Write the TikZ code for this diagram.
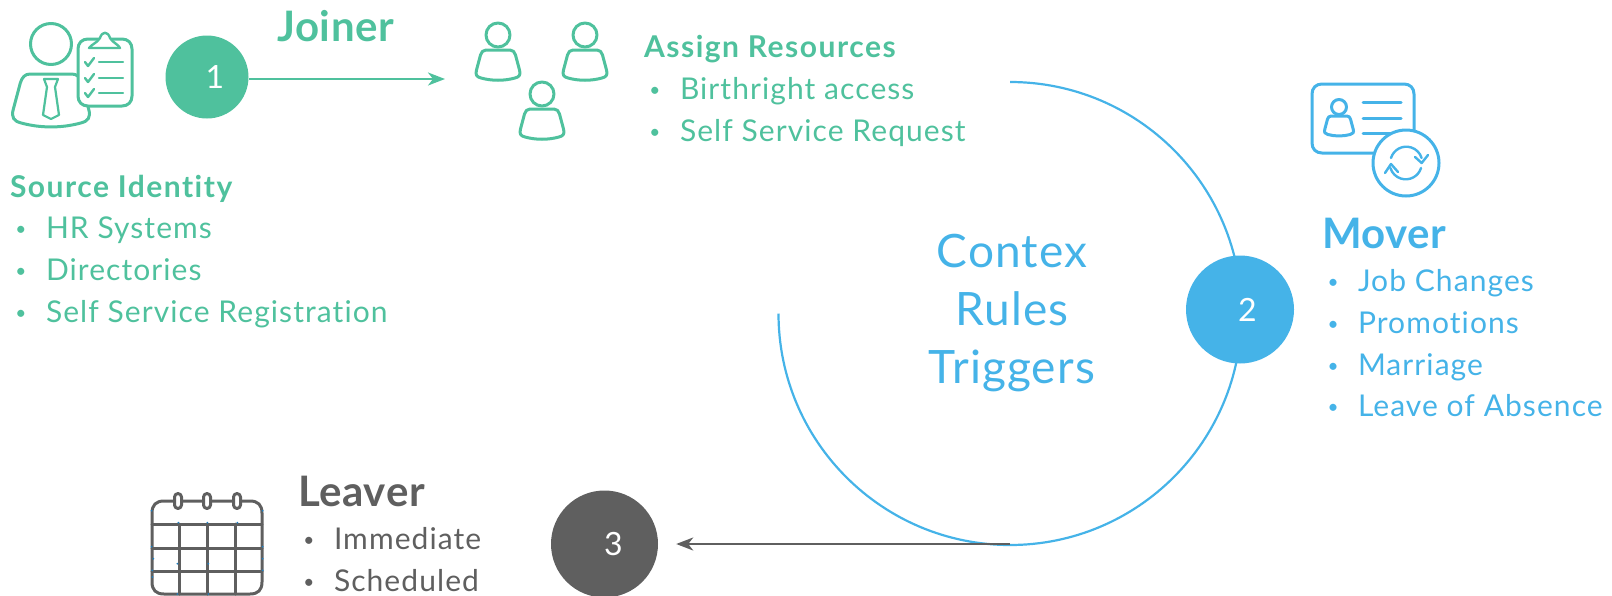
\documentclass[tikz,border=0pt]{standalone}
\usepackage{fontspec}
\setmainfont[Ligatures=NoCommon,RawFeature={-liga}]{Lato}
\usetikzlibrary{arrows.meta}
\definecolor{jgreen}{HTML}{4FC19D}
\definecolor{mblue}{HTML}{45B3E8}
\definecolor{lgray}{HTML}{5F5F5F}
\definecolor{speck}{HTML}{1F7FC0}
\newcommand{\itm}[1]{\makebox[0pt]{\fontsize{19}{19}\selectfont\raisebox{2.5pt}{•}}\hspace{25pt}#1}
\tikzset{
  x=1pt,y=-1pt,
  label text/.style={anchor=base west,inner sep=0pt,outer sep=0pt,font=\fontsize{30}{32}\selectfont\addfontfeatures{LetterSpace=3.6}},
  head text/.style={label text,font=\fontsize{30}{32}\selectfont\bfseries\addfontfeatures{LetterSpace=5}},
  title text/.style={label text,font=\fontsize{42}{46}\selectfont\bfseries\addfontfeatures{LetterSpace=1.5}},
  center text/.style={anchor=base,inner sep=0pt,text=mblue,font=\fontsize{46}{52}\selectfont\addfontfeatures{LetterSpace=2.5}},
  num circle/.style={circle,inner sep=0pt,minimum size=#1,text=white,font=\fontsize{32}{36}\selectfont},
  icon/.style={line width=3pt,line join=round,line cap=round},
  body/.pic={\draw[pic actions] (-12,0) -- (12,0) .. controls (15,0) and (16.5,2) .. (17.5,5) -- (21.5,20) .. controls (23,25) and (21,27) .. (17,28) .. controls (6,31) and (-6,31) .. (-17,28) .. controls (-21,27) and (-23,25) .. (-21.5,20) -- (-17.5,5) .. controls (-16.5,2) and (-15,0) .. (-12,0) -- cycle;},
  conn/.style={line width=2.2pt,-{Stealth[length=17pt,width=13pt,inset=5pt]}}
}
\begin{document}
\begin{tikzpicture}
\useasboundingbox (0,0) rectangle (1612,595);
% big arc
\coordinate (arctop) at (1010,82);
\coordinate (arcbottom) at (1010,544);
\draw[mblue,line width=2.2pt] (arctop) arc[start angle=-90,end angle=180,radius=231.5];
% number circles
\node[num circle=83pt,fill=jgreen] (c1) at (207,77) {\hspace*{16pt}1};
\node[num circle=108pt,fill=mblue] (c2) at (1240,309.5) {\hspace*{15pt}2};
\node[num circle=107pt,fill=lgray] (c3) at (604.5,544) {\hspace*{18pt}3};
\coordinate (j1end) at (445,79);
\draw[conn,jgreen] (c1.east |- j1end) -- (j1end);
\draw[conn,lgray,shorten >=18pt] (arcbottom) -- (c3.east);
% texts
\node[title text,text=jgreen] (joiner) at (277,41) {Joiner};
\node[head text,text=jgreen] (assign) at (644,57) {Assign Resources};
\node[label text,text=jgreen] (a1) at (655,99) {\itm{Birthright access}};
\node[label text,text=jgreen] (a2) at (655,141) {\itm{Self Service Request}};
\node[head text,text=jgreen] (source) at (10,197) {Source Identity};
\node[label text,text=jgreen] (s1) at (21,238) {\itm{HR Systems}};
\node[label text,text=jgreen] (s2) at (21,280) {\itm{Directories}};
\node[label text,text=jgreen] (s3) at (21,322) {\itm{Self Service Registration}};
\node[title text,text=mblue] (mover) at (1322,248) {Mover};
\node[label text,text=mblue] (m1) at (1333,291) {\itm{Job Changes}};
\node[label text,text=mblue] (m2) at (1333,333) {\itm{Promotions}};
\node[label text,text=mblue] (m3) at (1333,375) {\itm{Marriage}};
\node[label text,text=mblue] (m4) at (1333,416) {\itm{Leave of Absence}};
\node[title text,text=lgray] (leaver) at (298,506) {Leaver};
\node[label text,text=lgray] (l1) at (309,549) {\itm{Immediate}};
\node[label text,text=lgray] (l2) at (309,591) {\itm{Scheduled}};
\node[center text] (t1) at (1012,267) {Contex};
\node[center text] (t2) at (1012,325) {Rules};
\node[center text] (t3) at (1012,383) {Triggers};
% joiner person with clipboard
\begin{scope}[icon,jgreen]
  \draw (51,44) circle[radius=20.5];
  \pic[scale=1.75] at (51,74) {body};
  \draw[line width=2.2pt] (44,79) -- (58,79) -- (55,87) -- (59,115) -- (51,119) -- (43,115) -- (47,87) -- cycle;
  \draw[fill=white] (88,39) -- (122,39) .. controls (128,39) and (132,43) .. (132,49) -- (132,96) .. controls (132,102) and (128,106) .. (122,106) -- (88,106) .. controls (82,106) and (78,102) .. (78,96) -- (78,49) .. controls (78,43) and (82,39) .. (88,39) -- cycle;
  \draw[fill=white,line width=2.4pt] (89,48) .. controls (92,44) and (97,43) .. (100,38) .. controls (102,31) and (108,31) .. (110,38) .. controls (113,43) and (118,44) .. (120,48) -- cycle;
  \foreach \y in {62,78,93}{
    \draw[line width=2.4pt] (85,\y) -- (88,\y+4) -- (94,\y-4);
    \draw[line width=2.4pt] (99,\y) -- (123,\y);
  }
\end{scope}
% three people
\begin{scope}[icon,jgreen]
  \foreach \x/\y in {498/50,585/50,542/109}{
    \draw (\x,\y-15) circle[radius=12];
    \pic at (\x,\y) {body};
  }
\end{scope}
% id card
\begin{scope}[icon,mblue]
  \draw (1322,84) -- (1404,84) .. controls (1410,84) and (1414,88) .. (1414,94) -- (1414,143) .. controls (1414,149) and (1410,153) .. (1404,153) -- (1322,153) .. controls (1316,153) and (1312,149) .. (1312,143) -- (1312,94) .. controls (1312,88) and (1316,84) .. (1322,84) -- cycle;
  \draw (1339,107) circle[radius=7.5];
  \pic[scale=.66] at (1339,116) {body};
  \draw (1363,102) -- (1401,102);
  \draw (1363,118) -- (1401,118);
  \draw (1363,133) -- (1395,133);
  \draw[fill=white] (1406,163) circle[radius=33];
  \draw[line width=2.4pt] (1391,158) arc[start angle=197,end angle=343,radius=16];
  \draw[line width=2.4pt] (1415,157) -- (1421.7,163) -- (1428,155);
  \draw[line width=2.4pt] (1421,168) arc[start angle=17,end angle=163,radius=16];
  \draw[line width=2.4pt] (1385,173) -- (1391,164) -- (1398,172);
\end{scope}
% calendar
\begin{scope}[icon,lgray]
  \draw (164,501) -- (250,501) .. controls (258,501) and (262,505) .. (262,513) -- (262,582) .. controls (262,590) and (258,594) .. (250,594) -- (164,594) .. controls (156,594) and (152,590) .. (152,582) -- (152,513) .. controls (152,505) and (156,501) .. (164,501) -- cycle;
  \foreach \y in {524,548,571} \draw (152,\y) -- (262,\y);
  \foreach \x in {179,207,235} \draw (\x,524) -- (\x,594);
  \foreach \x in {178,207,237} \draw[fill=white] (\x-3.5,497) arc[start angle=180,end angle=360,radius=3.5] -- (\x+3.5,505) arc[start angle=0,end angle=180,radius=3.5] -- cycle;
\end{scope}
\fill[speck] \foreach \a/\b in {65/92,65/200,70/236,67/271,67/291,398/92,398/200,398/236,398/271,145/128,232/128,322/128,142/251,235/251,142/342,235/342} {(130+\a/3,480+\b/3) circle[radius=1]};
\end{tikzpicture}
\end{document}
